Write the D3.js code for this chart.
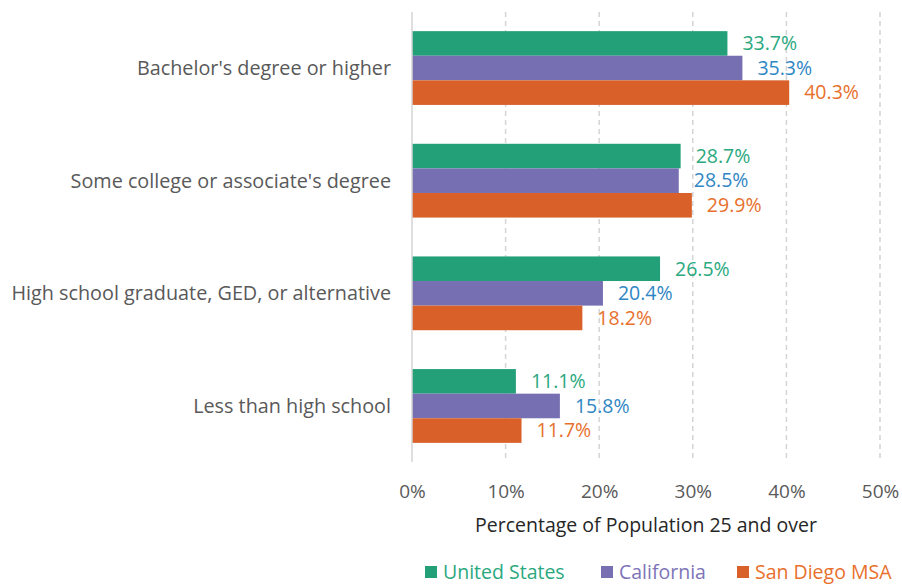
<!DOCTYPE html>
<html>
<head>
<meta charset="utf-8">
<script src="https://cdn.jsdelivr.net/npm/d3@7"></script>
<style>
  body { margin: 0; background: #fff; }
  svg text { font-family: "Open Sans", "Noto Sans", sans-serif; }
</style>
</head>
<body>
<div id="chart"></div>
<script>
var categories = [
  "Bachelor's degree or higher",
  "Some college or associate's degree",
  "High school graduate, GED, or alternative",
  "Less than high school"
];
var seriesNames = ["United States", "California", "San Diego MSA"];
var unitedStates = [33.7, 28.7, 26.5, 11.1];
var california = [35.3, 28.5, 20.4, 15.8];
var sanDiego = [40.3, 29.9, 18.2, 11.7];
var xTicks = [0, 10, 20, 30, 40, 50];

var barColors = ["#24a079", "#7670b3", "#d96028"];
var labelColors = ["#2aa87e", "#2f86c4", "#e8702c"];
var legendColors = ["#2aa87e", "#7d74b8", "#e8702c"];

var seriesValues = [unitedStates, california, sanDiego];

var width = 902, height = 586;
var margin = { left: 412, right: 22, top: 12, bottom: 124 };

var svg = d3.select('#chart').append('svg')
    .attr('width', width).attr('height', height);

var x = d3.scaleLinear().domain([0, 50])
    .range([margin.left, width - margin.right]);

var y = d3.scaleBand().domain(categories)
    .range([margin.top, height - margin.bottom])
    .paddingInner(0.345).paddingOuter(0.17);

var ySeries = d3.scaleBand().domain(seriesNames)
    .range([0, y.bandwidth()]);

// gridlines
svg.append('g').selectAll('line')
    .data(xTicks.filter(function(d) { return d > 0; }))
    .enter().append('line')
    .attr('x1', function(d) { return x(d); })
    .attr('x2', function(d) { return x(d); })
    .attr('y1', margin.top)
    .attr('y2', height - margin.bottom)
    .attr('stroke', '#d4d4d4')
    .attr('stroke-width', 1.5)
    .attr('stroke-dasharray', '5,4');

// bars
var groups = svg.append('g').selectAll('g')
    .data(categories)
    .enter().append('g')
    .attr('transform', function(d) { return 'translate(0,' + y(d) + ')'; });

groups.selectAll('rect')
    .data(function(d, i) {
      return seriesNames.map(function(s, j) { return { s: s, j: j, v: seriesValues[j][i] }; });
    })
    .enter().append('rect')
    .attr('x', x(0))
    .attr('y', function(d) { return ySeries(d.s); })
    .attr('width', function(d) { return x(d.v) - x(0); })
    .attr('height', ySeries.bandwidth())
    .attr('fill', function(d) { return barColors[d.j]; });

groups.selectAll('text.val')
    .data(function(d, i) {
      return seriesNames.map(function(s, j) { return { s: s, j: j, v: seriesValues[j][i] }; });
    })
    .enter().append('text')
    .attr('class', 'val')
    .attr('x', function(d) { return x(d.v) + 15; })
    .attr('y', function(d) { return ySeries(d.s) + ySeries.bandwidth() / 2; })
    .attr('dy', '0.35em')
    .attr('font-size', 19.5)
    .attr('fill', function(d) { return labelColors[d.j]; })
    .text(function(d) { return d.v.toFixed(1) + '%'; });

// y axis line
svg.append('line')
    .attr('x1', x(0)).attr('x2', x(0))
    .attr('y1', margin.top).attr('y2', height - margin.bottom)
    .attr('stroke', '#d4d4d4').attr('stroke-width', 1.5);

// category labels
svg.append('g').selectAll('text')
    .data(categories)
    .enter().append('text')
    .attr('x', x(0) - 21)
    .attr('y', function(d) { return y(d) + y.bandwidth() / 2; })
    .attr('dy', '0.35em')
    .attr('text-anchor', 'end')
    .attr('font-size', 19.8)
    .attr('fill', '#595959')
    .text(function(d) { return d; });

// x tick labels
var xAxis = d3.axisBottom(x).tickValues(xTicks)
    .tickFormat(function(d) { return d + '%'; })
    .tickSize(0).tickPadding(0);

var gx = svg.append('g')
    .attr('transform', 'translate(0,' + (height - margin.bottom + 22) + ')')
    .call(xAxis);
gx.select('.domain').remove();
gx.selectAll('text')
    .attr('font-size', 19)
    .attr('font-family', '"Open Sans", "Noto Sans", sans-serif')
    .attr('fill', '#595959');

// axis title
svg.append('text')
    .attr('x', x(25))
    .attr('y', 532)
    .attr('text-anchor', 'middle')
    .attr('font-size', 19.5)
    .attr('fill', '#262626')
    .text('Percentage of Population 25 and over');

// legend
var legendX = [425, 601, 737];
var legend = svg.append('g').selectAll('g')
    .data(seriesNames)
    .enter().append('g')
    .attr('transform', function(d, i) { return 'translate(' + legendX[i] + ',572)'; });

legend.append('rect')
    .attr('x', 0).attr('y', -6)
    .attr('width', 12).attr('height', 12)
    .attr('fill', function(d, i) { return barColors[i]; });

legend.append('text')
    .attr('x', 18).attr('y', 0)
    .attr('dy', '0.35em')
    .attr('font-size', 19.5)
    .attr('fill', function(d, i) { return legendColors[i]; })
    .text(function(d) { return d; });
</script>
</body>
</html>
